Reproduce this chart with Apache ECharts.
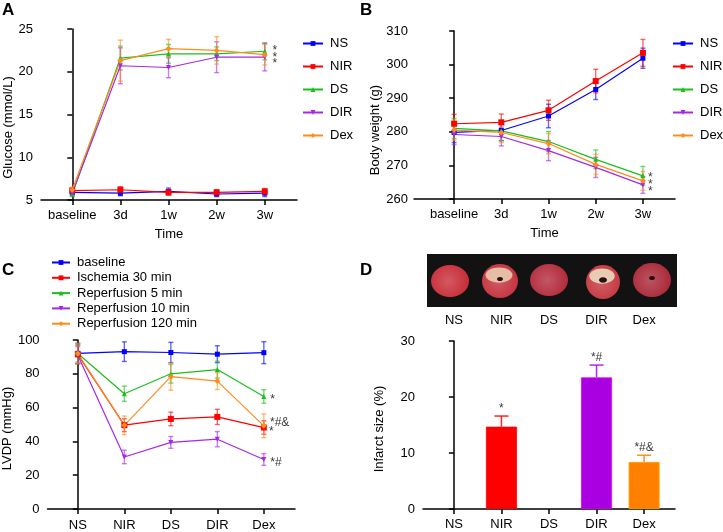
<!DOCTYPE html>
<html>
<head>
<meta charset="utf-8">
<script src="https://cdn.jsdelivr.net/npm/echarts@6/dist/echarts.min.js"></script>
<style>
html,body{margin:0;padding:0;background:#fff}
#chart{width:723px;height:532px}
</style>
</head>
<body>
<div id="chart"></div>
<script>
// categories
const timePoints = ['baseline', '3d', '1w', '2w', '3w'];
const groups = ['NS', 'NIR', 'DS', 'DIR', 'Dex'];
const phases = ['baseline', 'Ischemia 30 min', 'Reperfusion 5 min', 'Reperfusion 10 min', 'Reperfusion 120 min'];

// A: glucose (mmol/L), one row per group, one column per time point
const glucoseMean = [
  [5.9, 5.8, 6.0, 5.7, 5.8],
  [6.1, 6.2, 5.9, 5.9, 6.0],
  [5.7, 21.6, 22.1, 22.1, 22.4],
  [5.8, 20.7, 20.5, 21.7, 21.7],
  [6.2, 21.3, 22.7, 22.5, 22.0]
];
const glucoseSd = [
  [0.3, 0.3, 0.4, 0.3, 0.4],
  [0.3, 0.35, 0.3, 0.3, 0.35],
  [0.3, 1.4, 1.1, 0.8, 1.0],
  [0.3, 2.1, 1.2, 1.8, 1.6],
  [0.3, 2.4, 1.1, 1.6, 1.2]
];
// B: body weight (g)
const weightMean = [
  [279.8, 280.4, 284.7, 292.6, 301.9],
  [282.4, 282.8, 286.4, 295.1, 303.5],
  [281.0, 280.3, 277.1, 271.8, 266.9],
  [279.2, 278.6, 274.4, 269.4, 264.2],
  [280.5, 279.8, 276.5, 270.3, 265.4]
];
const weightSd = [
  [3.0, 3.0, 3.5, 3.0, 3.0],
  [2.8, 2.5, 3.0, 3.5, 4.0],
  [3.0, 3.0, 3.0, 2.8, 2.8],
  [3.0, 2.8, 3.0, 3.0, 2.5],
  [3.0, 3.0, 3.0, 3.0, 2.8]
];
// C: LVDP (mmHg), one row per phase, one column per group
const lvdpMean = [
  [92.1, 93.1, 92.6, 91.6, 92.5],
  [91.5, 49.6, 53.3, 54.5, 48.2],
  [92.0, 68.2, 80.0, 82.5, 66.6],
  [91.0, 30.8, 39.4, 41.3, 29.3],
  [92.0, 49.5, 78.3, 75.7, 49.2]
];
const lvdpSd = [
  [6.0, 5.8, 6.0, 5.0, 6.5],
  [5.5, 3.8, 4.0, 4.5, 4.0],
  [5.0, 4.5, 5.5, 5.0, 4.0],
  [5.0, 4.0, 3.5, 4.5, 3.5],
  [6.0, 5.5, 8.0, 5.0, 7.0]
];
// D: infarct size (%)
const infarctMean = [0, 14.7, 0, 23.5, 8.4];
const infarctSd = [0, 1.9, 0, 2.2, 1.2];
const infarctMarks = ['', '*', '', '*#', '*#&'];

// significance marks placed in data space: [x, y, text]
const glucoseMarks = [[4.21, 22.5, '*'], [4.21, 21.7, '*'], [4.21, 20.9, '*']];
const weightMarks = [[4.16, 266.4, '*'], [4.16, 264.4, '*'], [4.16, 262.3, '*']];
const lvdpMarks = [[4.19, 64.8, '*'], [4.34, 50.8, '*#&'], [4.16, 46.0, '*'], [4.26, 27.4, '*#']];

const colors = ['#0000ff', '#ff0000', '#1bbf1b', '#a628e8', '#ff8c1a'];
const barColors = ['#0000ff', '#ff0000', '#1bbf1b', '#a800e0', '#ff8000'];
const symbols = ['rect', 'rect', 'triangle', 'path://M0,0L10,0L5,9Z', 'diamond'];
const symbolSizes = [5, 6, 5, 5, 6];

const font = 'Liberation Sans, Arial, sans-serif';
const idx = timePoints.map((_, i) => i);

const chart = echarts.init(document.getElementById('chart'));

function xAxisFor(grid, min, max, labels, margin) {
  return {
    type: 'value', gridIndex: grid, min: min, max: max,
    axisLine: { onZero: false, lineStyle: { color: '#000', width: 1.5 } },
    axisTick: { customValues: idx, length: 5, lineStyle: { color: '#000', width: 1.5 } },
    axisLabel: { customValues: idx, formatter: v => labels[Math.round(v)], color: '#000', fontSize: 13, fontFamily: font, margin: margin },
    splitLine: { show: false }
  };
}
function yAxisFor(grid, min, max, interval, name, gap, shift, margin) {
  return {
    type: 'value', gridIndex: grid, min: min, max: max, interval: interval,
    name: name, nameLocation: 'middle', nameGap: gap,
    nameTextStyle: { color: '#000', fontSize: 13, fontFamily: font, padding: [0, shift, 0, 0] },
    axisLine: { show: true, lineStyle: { color: '#000', width: 1.5 } },
    axisTick: { show: true, length: 5, lineStyle: { color: '#000', width: 1.5 } },
    axisLabel: { color: '#000', fontSize: 13, fontFamily: font, margin: margin },
    splitLine: { show: false }
  };
}
function lineSeries(name, means, k, ax) {
  return {
    type: 'line', name: name, xAxisIndex: ax, yAxisIndex: ax,
    data: means.map((v, i) => [i, v]),
    symbol: symbols[k], symbolSize: symbolSizes[k],
    lineStyle: { width: 1.2, color: colors[k] }, itemStyle: { color: colors[k] },
    z: 3, silent: true
  };
}
function errSeries(means, sds, color, ax, cap) {
  return {
    type: 'custom', xAxisIndex: ax, yAxisIndex: ax, silent: true, z: 2,
    data: means.map((v, i) => [i, v, sds[i]]),
    encode: { x: 0, y: 1 },
    renderItem: (params, api) => {
      const x = api.value(0), y = api.value(1), e = api.value(2);
      const hi = api.coord([x, y + e]);
      const lo = api.coord([x, y - e]);
      const s = { stroke: color, lineWidth: 1.4, opacity: 0.6 };
      return { type: 'group', children: [
        { type: 'line', shape: { x1: hi[0], y1: hi[1], x2: lo[0], y2: lo[1] }, style: s },
        { type: 'line', shape: { x1: hi[0] - cap, y1: hi[1], x2: hi[0] + cap, y2: hi[1] }, style: s },
        { type: 'line', shape: { x1: lo[0] - cap, y1: lo[1], x2: lo[0] + cap, y2: lo[1] }, style: s }
      ] };
    }
  };
}
function markSeries(marks, ax) {
  return {
    type: 'scatter', xAxisIndex: ax, yAxisIndex: ax, silent: true, z: 5,
    data: marks, symbolSize: 1, itemStyle: { color: 'rgba(0,0,0,0)' },
    label: { show: true, position: 'inside', formatter: p => p.data[2], color: '#000', fontSize: 12, fontFamily: font }
  };
}

const series = [];
groups.forEach((g, k) => {
  series.push(errSeries(glucoseMean[k], glucoseSd[k], colors[k], 0, 2.5));
  series.push(lineSeries(g, glucoseMean[k], k, 0));
  series.push(errSeries(weightMean[k], weightSd[k], colors[k], 1, 2.5));
  series.push(lineSeries(g, weightMean[k], k, 1));
});
phases.forEach((ph, k) => {
  series.push(errSeries(lvdpMean[k], lvdpSd[k], colors[k], 2, 2.5));
  series.push(lineSeries(ph, lvdpMean[k], k, 2));
});
// D: bars with upper error bars only
series.push({
  type: 'custom', xAxisIndex: 3, yAxisIndex: 3, silent: true, z: 2,
  data: infarctMean.map((v, i) => [i, v, infarctSd[i]]),
  encode: { x: 0, y: 1 },
  renderItem: (params, api) => {
    const i = api.value(0), y = api.value(1), e = api.value(2);
    if (!e) return;
    const hi = api.coord([i, y + e]), lo = api.coord([i, y]);
    const s = { stroke: barColors[i], lineWidth: 1.5, opacity: 0.85 };
    return { type: 'group', children: [
      { type: 'line', shape: { x1: hi[0], y1: hi[1], x2: lo[0], y2: lo[1] }, style: s },
      { type: 'line', shape: { x1: hi[0] - 7, y1: hi[1], x2: hi[0] + 7, y2: hi[1] }, style: s }
    ] };
  }
});
series.push({
  type: 'bar', xAxisIndex: 3, yAxisIndex: 3, barWidth: 31, silent: true, z: 3,
  data: infarctMean.map((v, i) => ({
    value: [i, v],
    itemStyle: v > 0
      ? { color: barColors[i], borderColor: echarts.color.lift(barColors[i], -0.3), borderWidth: 0.8 }
      : { opacity: 0 }
  }))
});
series.push({
  type: 'scatter', xAxisIndex: 3, yAxisIndex: 3, silent: true, z: 5,
  data: infarctMean.map((v, i) => [i, v + infarctSd[i], infarctMarks[i]]),
  symbolSize: 1, itemStyle: { color: 'rgba(0,0,0,0)' },
  label: { show: true, position: 'top', distance: 1, formatter: p => p.data[2], color: '#000', fontSize: 12, fontFamily: font }
});
series.push(markSeries(glucoseMarks, 0));
series.push(markSeries(weightMarks, 1));
series.push(markSeries(lvdpMarks, 2));

// heart slice photo (decoration above panel D)
function heart(cx, cy, rx, ry, base, pale, hole) {
  const kids = [{
    type: 'ellipse', shape: { cx: cx, cy: cy, rx: rx, ry: ry },
    style: { fill: { type: 'radial', x: 0.45, y: 0.5, r: 0.6, colorStops: [{ offset: 0, color: echarts.color.lift(base, 0.2) }, { offset: 1, color: base }] } }
  }];
  if (pale) kids.push({ type: 'ellipse', shape: { cx: cx - 1, cy: cy - ry * 0.35, rx: rx * 0.75, ry: ry * 0.45 }, style: { fill: pale, opacity: 0.85 } });
  if (hole) kids.push({ type: 'ellipse', shape: { cx: cx, cy: cy - 2, rx: hole, ry: hole * 0.7 }, style: { fill: '#2a1010' } });
  return { type: 'group', silent: true, children: kids };
}

chart.setOption({
  animation: false,
  textStyle: { fontFamily: font },
  title: [
    { text: 'A', left: 2, top: 2 },
    { text: 'B', left: 360, top: 2 },
    { text: 'C', left: 2, top: 262 },
    { text: 'D', left: 360, top: 262 }
  ].map(t => Object.assign(t, { padding: 0, textStyle: { fontSize: 17, fontWeight: 'bold', color: '#000', fontFamily: font } })),
  legend: [
    { data: groups, orient: 'vertical', left: 302, top: 37, padding: 0, itemWidth: 20, itemHeight: 6, itemGap: 10,
      textStyle: { fontSize: 13, color: '#000', padding: [0, 0, 0, 2] }, selectedMode: false },
    { data: groups, orient: 'vertical', left: 672, top: 37, padding: 0, itemWidth: 20, itemHeight: 6, itemGap: 10,
      textStyle: { fontSize: 13, color: '#000', padding: [0, 0, 0, 2] }, selectedMode: false },
    { data: phases, orient: 'vertical', left: 51, top: 256, padding: 0, itemWidth: 18, itemHeight: 6, itemGap: 2.3,
      textStyle: { fontSize: 13, color: '#000', padding: [0, 0, 0, 2] }, selectedMode: false }
  ],
  grid: [
    { left: 41, right: 426, top: 29, bottom: 332 },
    { left: 414, right: 48, top: 31, bottom: 333 },
    { left: 42, right: 428, top: 340, bottom: 23 },
    { left: 423, right: 48, top: 341, bottom: 23 }
  ],
  xAxis: [
    Object.assign(xAxisFor(0, -0.65, 4.67, timePoints, 9), { name: 'Time', nameLocation: 'middle', nameGap: 28, nameTextStyle: { color: '#000', fontSize: 13 } }),
    Object.assign(xAxisFor(1, -0.85, 4.68, timePoints, 9), { name: 'Time', nameLocation: 'middle', nameGap: 28, nameTextStyle: { color: '#000', fontSize: 13 } }),
    xAxisFor(2, -0.65, 4.67, groups, 10),
    xAxisFor(3, -0.65, 4.65, groups, 9),
    Object.assign(xAxisFor(3, -0.65, 4.65, groups, 14), { position: 'top', axisLine: { show: false }, axisTick: { show: false } })
  ],
  yAxis: [
    yAxisFor(0, 5, 25, 5, 'Glucose (mmol/L)', 25, 26, 8),
    yAxisFor(1, 260, 310, 10, 'Body weight (g)', 28, 30, 6),
    yAxisFor(2, 0, 100, 20, 'LVDP (mmHg)', 29, 8, 8),
    yAxisFor(3, 0, 30, 10, 'Infarct size (%)', 37, 8, 8)
  ],
  graphic: [
    { type: 'rect', shape: { x: 427, y: 254, width: 250, height: 53 }, style: { fill: '#121212' }, silent: true },
    heart(450, 281, 19, 16, '#c8303a', null, 0),
    heart(500, 281, 18, 17, '#c4333e', '#ead2b4', 3),
    heart(549, 280, 19, 16, '#b32e3e', null, 0),
    heart(603, 282, 17, 17, '#c53840', '#efe2c4', 4),
    heart(652, 280, 19, 17, '#aa2a3a', null, 3)
  ],
  series: series
});
</script>
</body>
</html>
